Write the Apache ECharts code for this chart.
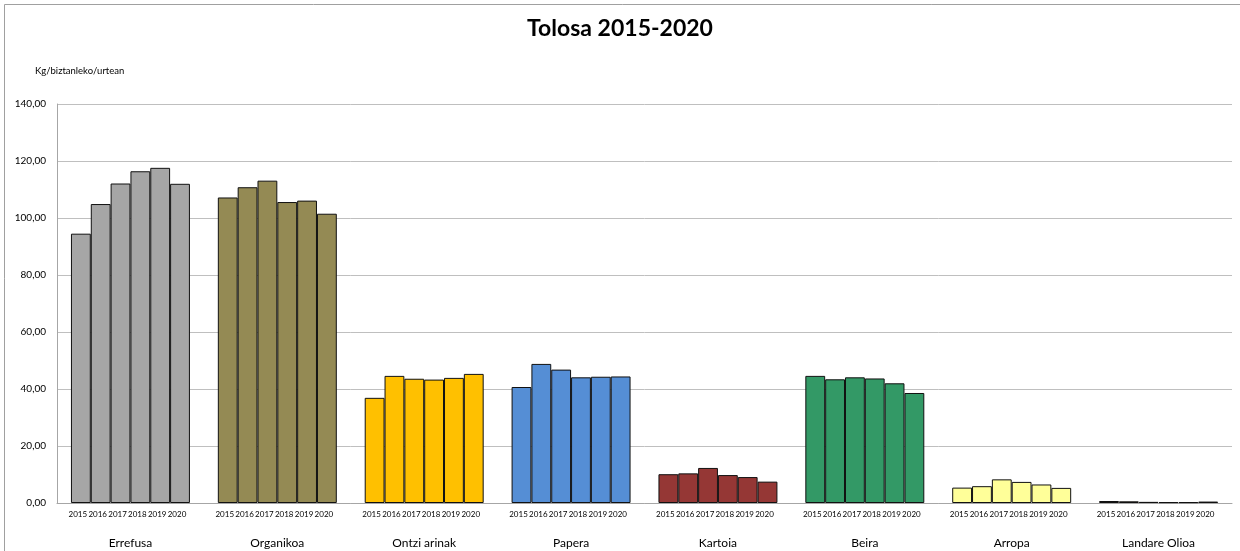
<!DOCTYPE html>
<html>
<head>
<meta charset="utf-8">
<script src="https://cdn.jsdelivr.net/npm/echarts@6/dist/echarts.min.js"></script>
<style>
html,body{margin:0;padding:0;background:#fff;}
#c{width:1240px;height:551px;}
</style>
</head>
<body>
<div id="c"></div>
<script>
const categories = ['Errefusa','Organikoa','Ontzi arinak','Papera','Kartoia','Beira','Arropa','Landare Olioa'];
const years = ['2015','2016','2017','2018','2019','2020'];
const v2015 = [94.5, 107.2, 36.9, 40.7, 10.1, 44.6, 5.4, 0.7];
const v2016 = [104.9, 110.8, 44.6, 48.8, 10.4, 43.4, 5.9, 0.6];
const v2017 = [112.1, 113.1, 43.6, 46.8, 12.3, 44.1, 8.3, 0.4];
const v2018 = [116.4, 105.6, 43.3, 44.1, 9.8, 43.7, 7.4, 0.3];
const v2019 = [117.6, 106.1, 43.9, 44.3, 9.1, 42.0, 6.5, 0.3];
const v2020 = [112.0, 101.5, 45.3, 44.4, 7.5, 38.6, 5.3, 0.5];
const yearValues = [v2015, v2016, v2017, v2018, v2019, v2020];
const categoryColors = ['#a6a6a6','#948a54','#ffc000','#558ed5','#953735','#339966','#ffff99','#c4b496'];
const yTicks = [0,20,40,60,80,100,120,140];

const FONT = 'Lato, "Liberation Sans", sans-serif';
const chart = echarts.init(document.getElementById('c'), null, {renderer:'canvas'});

const series = years.map((y, i) => ({
  name: y,
  type: 'bar',
  barGap: 0,
  barCategoryGap: '19%',
  data: yearValues[i].map((v, j) => ({
    value: v,
    itemStyle: {color: categoryColors[j]}
  })),
  itemStyle: {borderColor: '#111', borderWidth: 1},
  label: {
    show: true,
    position: 'bottom',
    distance: 7,
    offset: [-3, 0],
    formatter: y,
    fontSize: 8,
    fontFamily: FONT,
    color: '#000'
  },
  emphasis: {disabled: true}
}));

chart.setOption({
  animation: false,
  backgroundColor: '#fff',
  title: {
    text: 'Tolosa 2015-2020',
    left: 'center',
    top: 12,
    textStyle: {fontFamily: FONT, fontWeight: 'bold', fontSize: 23, color: '#000'}
  },
  graphic: [
    {type: 'rect', shape: {x: 4.5, y: 4.5, width: 1300, height: 600}, style: {fill: 'none', stroke: '#a0a0a0', lineWidth: 1}, silent: true},
    {type: 'text', left: 35, top: 66, style: {text: 'Kg/biztanleko/urtean', font: '9.5px ' + FONT, fill: '#000'}}
  ],
  grid: {left: 57, right: 8, top: 104, bottom: 48, containLabel: false},
  xAxis: {
    type: 'category',
    data: categories,
    axisLine: {show: true, lineStyle: {color: '#a6a6a6', width: 1}},
    axisTick: {show: false},
    axisLabel: {margin: 34, fontSize: 12, fontFamily: FONT, color: '#000'}
  },
  yAxis: {
    type: 'value',
    min: 0,
    max: 140,
    interval: 20,
    axisLine: {show: true, lineStyle: {color: '#a6a6a6'}},
    axisTick: {show: false},
    splitLine: {show: true, lineStyle: {color: '#bfbfbf', width: 1}},
    axisLabel: {
      margin: 11,
      fontSize: 10,
      fontFamily: FONT,
      color: '#000',
      formatter: v => yTicks.includes(v) ? v.toFixed(2).replace('.', ',') : ''
    }
  },
  series: series
});
</script>
</body>
</html>
